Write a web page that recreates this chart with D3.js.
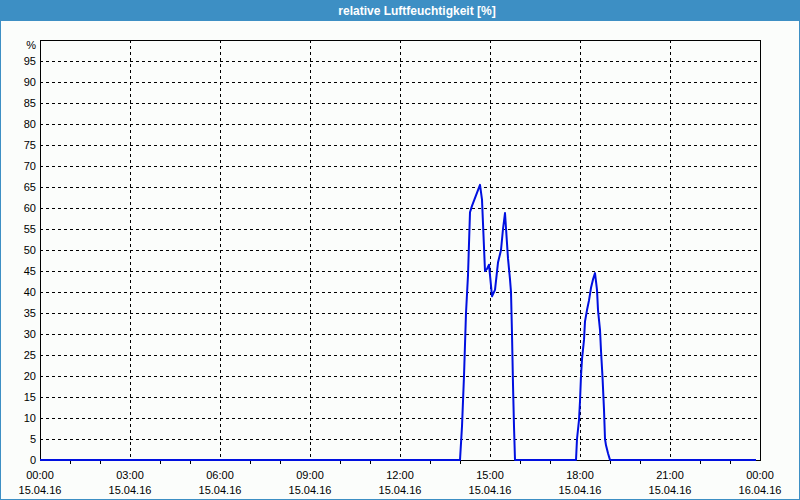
<!DOCTYPE html>
<html><head><meta charset="utf-8">
<script src="https://cdn.jsdelivr.net/npm/d3@7"></script>
<style>
html,body{margin:0;padding:0;background:#fff;}
svg{display:block;}
text{font-family:"Liberation Sans",Arial,sans-serif;}
</style></head>
<body>
<svg id="c" width="800" height="500"></svg>
<script>
const title = "relative Luftfeuchtigkeit [%]";
const unitLabel = "%";
const times = ["00:00","14:00","14:04","14:08","14:12","14:16","14:20","14:24","14:32","14:40","14:44","14:50","14:54","14:58","15:04","15:10","15:16","15:22","15:26","15:30","15:36","15:40","15:42","15:44","15:46","15:48","15:50",
 "17:52","17:54","17:58","18:00","18:02","18:04","18:08","18:10","18:14","18:18","18:22","18:26","18:30","18:34","18:36","18:40","18:42","18:45","18:48","18:50","18:52","18:56","19:00","23:52"];
const values = [0,0,8,20,35,44,59,60.5,63,65.5,62,45,45.5,46.5,39,40.5,47,50,55,58.8,48,43,40,30,18,8,0,
 0,5,9.5,14,20,24,28.6,33,35.7,38,41,43,44.5,40.5,35.7,31,26,19.8,12,5,3.5,1.6,0,0];
const yTicks = d3.range(0, 100, 5);
const xTickHours = [0,3,6,9,12,15,18,21,24];

const svg = d3.select("#c");
const W = 800, H = 500;
const m = {l:40, r:40, t:40, b:40};
const base = new Date(2016,3,15,0,0);
const parse = s => { const [h,mi] = s.split(":").map(Number); return new Date(2016,3,15,h,mi); };
const data = times.map((t,i)=>({t:parse(t), v:values[i]}));

const x = d3.scaleTime().domain([base, new Date(2016,3,16,0,0)]).range([m.l, W-m.r]);
const y = d3.scaleLinear().domain([0,100]).range([H-m.b, m.t]);

// background + border
svg.append("rect").attr("x",0).attr("y",0).attr("width",W).attr("height",H).attr("fill","#3d8fc4");
svg.append("rect").attr("x",1).attr("y",21).attr("width",W-2).attr("height",H-22).attr("fill","#fbfdfb");
svg.append("text").attr("x",417).attr("y",15).attr("text-anchor","middle").attr("fill","#fff")
  .attr("font-size",12).attr("font-weight","bold").text(title);

// grid
const g = svg.append("g");
g.selectAll(".hg").data(yTicks.filter(d=>d>0)).enter().append("line")
  .attr("x1",m.l).attr("x2",W-m.r).attr("y1",d=>Math.round(y(d))+0.5).attr("y2",d=>Math.round(y(d))+0.5)
  .attr("stroke","#000").attr("stroke-dasharray","3,3").attr("stroke-width",1);
g.selectAll(".vg").data(xTickHours.slice(1,-1)).enter().append("line")
  .attr("x1",d=>Math.round(x(d3.timeHour.offset(base,d)))+0.5).attr("x2",d=>Math.round(x(d3.timeHour.offset(base,d)))+0.5)
  .attr("y1",m.t).attr("y2",H-m.b)
  .attr("stroke","#000").attr("stroke-dasharray","3,3").attr("stroke-width",1);

// y labels
g.selectAll(".yl").data(yTicks).enter().append("text")
  .attr("x",m.l-4).attr("y",d=>y(d)+4).attr("text-anchor","end").attr("font-size",11).attr("fill","#000").text(d=>d);
g.append("text").attr("x",m.l-4).attr("y",y(100)+9).attr("text-anchor","end").attr("font-size",11).text(unitLabel);

// minor ticks
const minor = d3.range(1,24).filter(h=>h%3!==0);
g.selectAll(".mt").data(minor).enter().append("line")
  .attr("x1",d=>Math.round(x(d3.timeHour.offset(base,d)))+0.5).attr("x2",d=>Math.round(x(d3.timeHour.offset(base,d)))+0.5)
  .attr("y1",H-m.b).attr("y2",H-m.b+4).attr("stroke","#000");

// x labels
const fmtT = d3.timeFormat("%H:%M"), fmtD = d3.timeFormat("%d.%m.%y");
xTickHours.forEach(h=>{
  const d = d3.timeHour.offset(base,h);
  g.append("text").attr("x",x(d)).attr("y",479).attr("text-anchor","middle").attr("font-size",11).text(fmtT(d));
  g.append("text").attr("x",x(d)).attr("y",494).attr("text-anchor","middle").attr("font-size",11).text(fmtD(d));
});

// frame
svg.append("rect").attr("x",m.l+0.5).attr("y",m.t+0.5).attr("width",W-m.l-m.r).attr("height",H-m.t-m.b)
  .attr("fill","none").attr("stroke","#000").attr("stroke-width",1);

// line
const line = d3.line().x(d=>x(d.t)).y(d=>y(d.v));
svg.append("path").datum(data).attr("d",line).attr("fill","none").attr("stroke","#0010e0").attr("stroke-width",2)
  .attr("stroke-linejoin","round");
</script>
</body></html>
